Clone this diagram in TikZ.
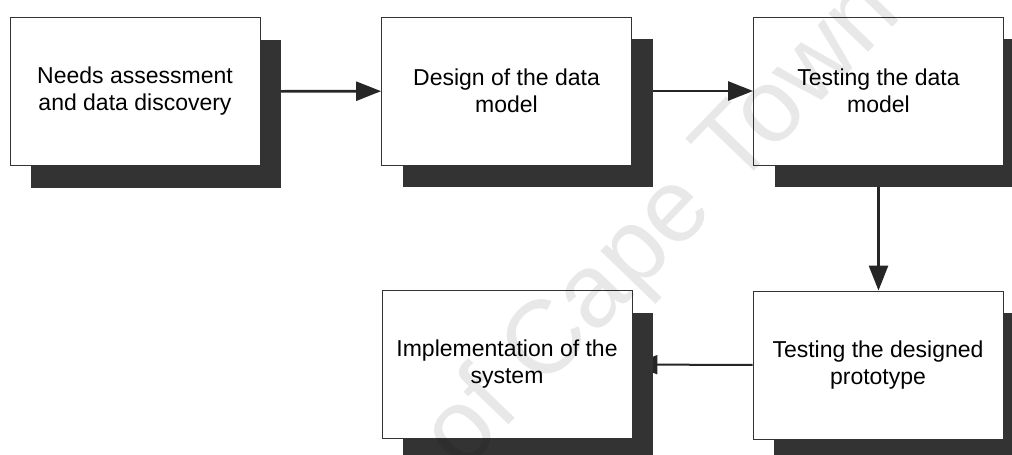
\documentclass[tikz,border=0pt]{standalone}
\usepackage{fontspec}
\setmainfont{Liberation Sans}
\usetikzlibrary{arrows.meta,shadows,backgrounds}
\begin{document}
\begin{tikzpicture}[x=1pt,y=-1pt,
  stepbox/.style={draw=black!80, line width=0.8pt, fill=white,
    minimum width=250pt, minimum height=148pt, inner sep=0pt, align=center,
    font=\fontsize{23}{27}\selectfont, text=black,
    drop shadow={shadow xshift=21pt, shadow yshift=-22pt, fill=black!80, opacity=1}},
  flow/.style={line width=2.6pt, draw=black!85, -{Triangle[length=25pt,width=19pt]}},
  watermark/.style={text=black, text opacity=0.09, font=\fontsize{104}{104}\selectfont, inner sep=0pt}
]
\useasboundingbox (0,0) rectangle (1012,455);
\clip (0,0) rectangle (1012,455);

\node[stepbox] (n1) at (135,91.5) {Needs assessment\\and data discovery};
\node[stepbox] (n2) at (506.5,91) {Design of the data\\model};
\node[stepbox] (n3) at (878.5,91) {Testing the data\\model};
\node[stepbox] (n5) at (878,365) {Testing the designed\\prototype};
\node[stepbox] (n4) at (507,364.5) {Implementation of the\\system};

\begin{scope}[on background layer]
\draw[flow] (n1) -- (n2);
\draw[flow] (n2) -- (n3);
\draw[flow] (n3.south) -- (n3.south |- n5.north);
\draw[flow, line width=2pt] (n5) -- (n4);
\end{scope}

\node[watermark, rotate=46] (wm) at (664,226) {of Cape Town};
\end{tikzpicture}
\end{document}
